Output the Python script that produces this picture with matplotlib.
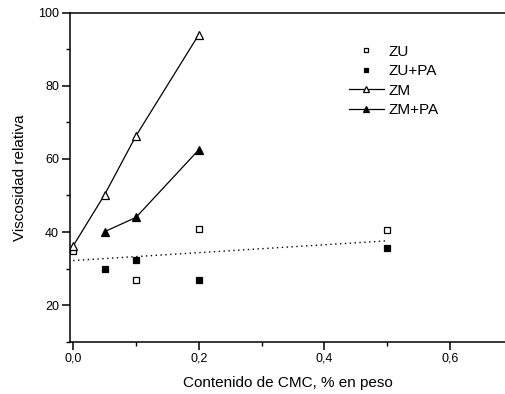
import matplotlib
matplotlib.use("Agg")
import matplotlib.pyplot as plt
from matplotlib.ticker import MultipleLocator, FuncFormatter

plt.rcParams["font.family"] = ["Liberation Sans", "DejaVu Sans"]

# data
zu_x = [0.0, 0.1, 0.2, 0.5]
zu_y = [34.9, 26.9, 40.8, 40.5]
zupa_x = [0.05, 0.1, 0.2, 0.5]
zupa_y = [29.9, 32.3, 26.9, 35.5]
zm_x = [0.0, 0.05, 0.1, 0.2]
zm_y = [36.2, 50.2, 66.3, 94.0]
zmpa_x = [0.05, 0.1, 0.2]
zmpa_y = [40.1, 44.0, 62.5]
fit_x = [0.0, 0.5]
fit_y = [32.2, 37.6]

fig = plt.figure(figsize=(5.06, 3.94), dpi=100)
ax = fig.add_axes([70 / 506, 1 - 341.7 / 394, 436 / 506, (341.7 - 12.7) / 394])

ax.plot(fit_x, fit_y, ls=(0, (1, 2.5)), color="black", lw=1.0, zorder=1)
ax.plot(zu_x, zu_y, ls="none", marker="s", ms=4.8, mfc="white", mec="black", mew=0.9, label="ZU")
ax.plot(zupa_x, zupa_y, ls="none", marker="s", ms=4.8, mfc="black", mec="black", mew=0.9, label="ZU+PA")
ax.plot(zm_x, zm_y, ls="-", lw=0.9, color="black", marker="^", ms=6.2, mfc="white", mec="black", mew=0.9, label="ZM")
ax.plot(zmpa_x, zmpa_y, ls="-", lw=0.9, color="black", marker="^", ms=6.2, mfc="black", mec="black", mew=0.9, label="ZM+PA")

ax.set_xlim(-0.005, 0.689)
ax.set_ylim(10, 100)
ax.xaxis.set_major_locator(MultipleLocator(0.2))
ax.xaxis.set_minor_locator(MultipleLocator(0.1))
ax.yaxis.set_major_locator(MultipleLocator(20))
ax.yaxis.set_minor_locator(MultipleLocator(10))
ax.xaxis.set_major_formatter(FuncFormatter(lambda v, p: f"{v:.1f}".replace(".", ",")))
ax.yaxis.set_major_formatter(FuncFormatter(lambda v, p: "" if v < 15 else f"{v:.0f}"))

ax.spines["right"].set_visible(False)
for s in ("left", "bottom", "top"):
    ax.spines[s].set_linewidth(1.1)

ax.tick_params(axis="both", which="major", direction="out", length=5.5, width=1.1, labelsize=9, pad=2.5)
ax.tick_params(axis="both", which="minor", direction="out", length=3, width=1.0)

ax.set_xlabel("Contenido de CMC, % en peso", fontsize=11, labelpad=8)
ax.set_ylabel("Viscosidad relativa", fontsize=11, labelpad=8)

ax.legend(loc="upper left", bbox_to_anchor=(0.608, 0.945), frameon=False, fontsize=11,
          markerscale=0.75, handlelength=2.3, handletextpad=0.3, labelspacing=0.36)

fig.savefig("out.png", dpi=100)
